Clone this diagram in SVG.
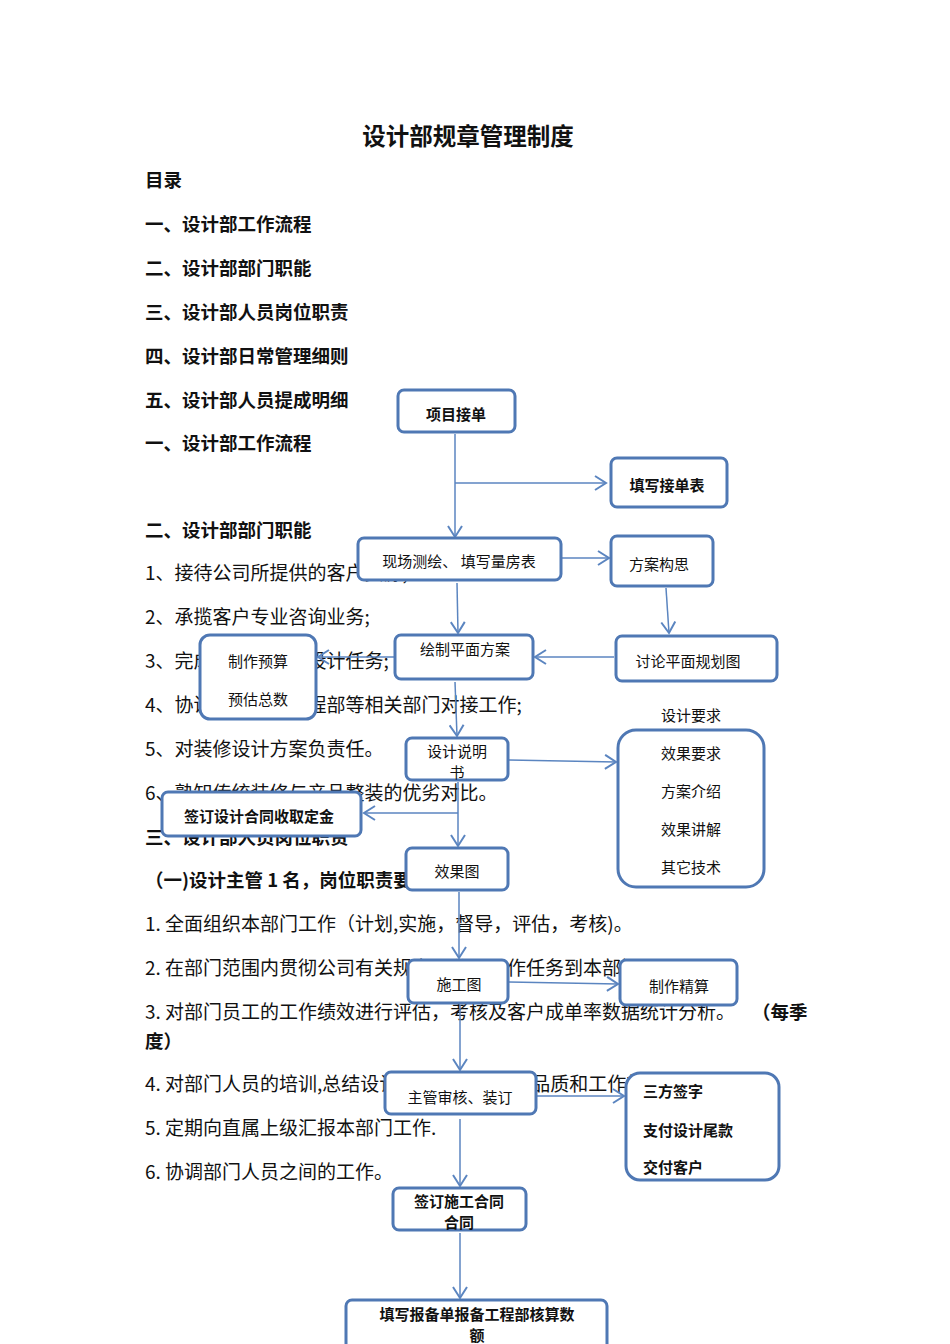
<svg xmlns="http://www.w3.org/2000/svg" width="950" height="1344" viewBox="0 0 950 1344">
<style>
text{font-family:"Noto Sans CJK SC","Liberation Sans",sans-serif;fill:#111}
.t{font-size:19px}
.b{font-size:18.5px;font-weight:bold}
.n rect{fill:#fff;stroke:#4f78b4;stroke-width:3}
.n text{font-size:15px;text-anchor:middle}
.n .k{font-weight:bold}
.n .s{text-anchor:start}
.c line{stroke:#5b85c0;stroke-width:1.5;fill:none}
</style>
<defs><marker id="a" markerWidth="14" markerHeight="16" refX="12" refY="8" orient="auto" markerUnits="userSpaceOnUse"><polyline points="1,1 12,8 1,15" fill="none" stroke="#5b85c0" stroke-width="2"/></marker></defs>
<rect width="950" height="1344" fill="#fff"/>
<g id="bg">
<text x="468" y="145" text-anchor="middle" style="font-size:23.5px;font-weight:bold">设计部规章管理制度</text>
<text class="b" x="145" y="187">目录</text>
<text class="b" x="145" y="231">一、设计部工作流程</text>
<text class="b" x="145" y="275">二、设计部部门职能</text>
<text class="b" x="145" y="319">三、设计部人员岗位职责</text>
<text class="b" x="145" y="363">四、设计部日常管理细则</text>
<text class="b" x="145" y="407">五、设计部人员提成明细</text>
<text class="b" x="145" y="450">一、设计部工作流程</text>
<text class="b" x="145" y="537">二、设计部部门职能</text>
<text class="t" x="145" y="580">1、接待公司所提供的客户资源;</text>
<text class="t" x="145" y="624">2、承揽客户专业咨询业务;</text>
<text class="t" x="145" y="668">3、完成公司下达的设计任务;</text>
<text class="t" x="145" y="712">4、协调与客户及工程部等相关部门对接工作;</text>
<text class="t" x="145" y="756">5、对装修设计方案负责任。</text>
<text class="t" x="145" y="800">6、熟知传统装修与产品整装的优劣对比。</text>
<text class="b" x="145" y="844">三、设计部人员岗位职责</text>
<text class="b" x="145" y="887">（一)设计主管 1 名，岗位职责要求</text>
<text class="t" x="145" y="931">1. 全面组织本部门工作（计划,实施，督导，评估，考核)。</text>
<text class="t" x="145" y="975">2. 在部门范围内贯彻公司有关规定，分配工作任务到本部门</text>
<text class="t" x="145" y="1019">3. 对部门员工的工作绩效进行评估，考核及客户成单率数据统计分析。</text>
<text class="b" x="752" y="1019">（每季</text>
<text class="b" x="145" y="1048">度）</text>
<text class="t" x="145" y="1091">4. 对部门人员的培训,总结设计经验，提高设计品质和工作效率</text>
<text class="t" x="145" y="1135">5. 定期向直属上级汇报本部门工作.</text>
<text class="t" x="145" y="1179">6. 协调部门人员之间的工作。</text>
<text x="691" y="721" text-anchor="middle" style="font-size:15px">设计要求</text>
</g>
<g class="c">
<line x1="455" y1="434" x2="455" y2="537" marker-end="url(#a)"/>
<line x1="455" y1="483" x2="606" y2="483" marker-end="url(#a)"/>
<line x1="562" y1="558" x2="609" y2="558" marker-end="url(#a)"/>
<line x1="666" y1="588" x2="669" y2="633" marker-end="url(#a)"/>
<line x1="614" y1="657" x2="535" y2="657" marker-end="url(#a)"/>
<line x1="457" y1="583" x2="458" y2="633" marker-end="url(#a)"/>
<line x1="394" y1="657" x2="318" y2="657" marker-end="url(#a)"/>
<line x1="455" y1="682" x2="457" y2="736" marker-end="url(#a)"/>
<line x1="509" y1="760" x2="616" y2="762" marker-end="url(#a)"/>
<line x1="458" y1="782" x2="458" y2="846" marker-end="url(#a)"/>
<line x1="458" y1="813" x2="364" y2="813" marker-end="url(#a)"/>
<line x1="459" y1="892" x2="459" y2="958" marker-end="url(#a)"/>
<line x1="509" y1="982" x2="618" y2="984" marker-end="url(#a)"/>
<line x1="460" y1="1005" x2="460" y2="1070" marker-end="url(#a)"/>
<line x1="537" y1="1096" x2="624" y2="1096" marker-end="url(#a)"/>
<line x1="460" y1="1119" x2="460" y2="1186" marker-end="url(#a)"/>
<line x1="460" y1="1233" x2="460" y2="1298" marker-end="url(#a)"/>
</g>
<g id="n1" class="n"><rect x="398" y="390" width="117" height="42" rx="6"/><text class="k" x="456" y="420">项目接单</text></g>
<g id="n2" class="n"><rect x="611" y="458" width="116" height="49" rx="6"/><text class="k" x="667" y="491">填写接单表</text></g>
<g id="n3" class="n"><rect x="358" y="538" width="203" height="42" rx="6"/><text x="459" y="567">现场测绘、  填写量房表</text></g>
<g id="n4" class="n"><rect x="611" y="536" width="102" height="50" rx="6"/><text x="659" y="570">方案构思</text></g>
<g id="n5" class="n"><rect x="395" y="635" width="138" height="44" rx="6"/><text x="465" y="655">绘制平面方案</text></g>
<g id="n6" class="n"><rect x="616" y="636" width="161" height="45" rx="6"/><text x="688" y="667">讨论平面规划图</text></g>
<g id="n7" class="n"><rect x="200" y="635" width="116" height="84" rx="10"/><text x="258" y="667">制作预算</text><text x="258" y="705">预估总数</text></g>
<g id="n8" class="n"><rect x="406" y="738" width="102" height="42" rx="6"/><text x="457" y="757">设计说明</text><text x="457" y="778">书</text></g>
<g id="n9" class="n"><rect x="618" y="730" width="146" height="157" rx="18"/><text x="691" y="759">效果要求</text><text x="691" y="797">方案介绍</text><text x="691" y="835">效果讲解</text><text x="691" y="873">其它技术</text></g>
<g id="n10" class="n"><rect x="162" y="792" width="199" height="44" rx="6"/><text class="k" x="259" y="822">签订设计合同收取定金</text></g>
<g id="n11" class="n"><rect x="406" y="848" width="102" height="42" rx="6"/><text x="457" y="877">效果图</text></g>
<g id="n12" class="n"><rect x="408" y="960" width="100" height="43" rx="6"/><text x="459" y="990">施工图</text></g>
<g id="n13" class="n"><rect x="620" y="960" width="117" height="45" rx="6"/><text x="679" y="992">制作精算</text></g>
<g id="n14" class="n"><rect x="385" y="1072" width="151" height="42" rx="6"/><text x="460" y="1103">主管审核、装订</text></g>
<g id="n15" class="n"><rect x="626" y="1073" width="153" height="107" rx="14"/><text class="k s" x="643" y="1097">三方签字</text><text class="k s" x="643" y="1136">支付设计尾款</text><text class="k s" x="643" y="1173">交付客户</text></g>
<g id="n16" class="n"><rect x="393" y="1188" width="133" height="42" rx="6"/><text class="k" x="459" y="1207">签订施工合同</text><text class="k" x="459" y="1228">合同</text></g>
<g id="n17" class="n"><rect x="346" y="1300" width="261" height="50" rx="6"/><text class="k" x="477" y="1320">填写报备单报备工程部核算数</text><text class="k" x="477" y="1341">额</text></g>
</svg>
